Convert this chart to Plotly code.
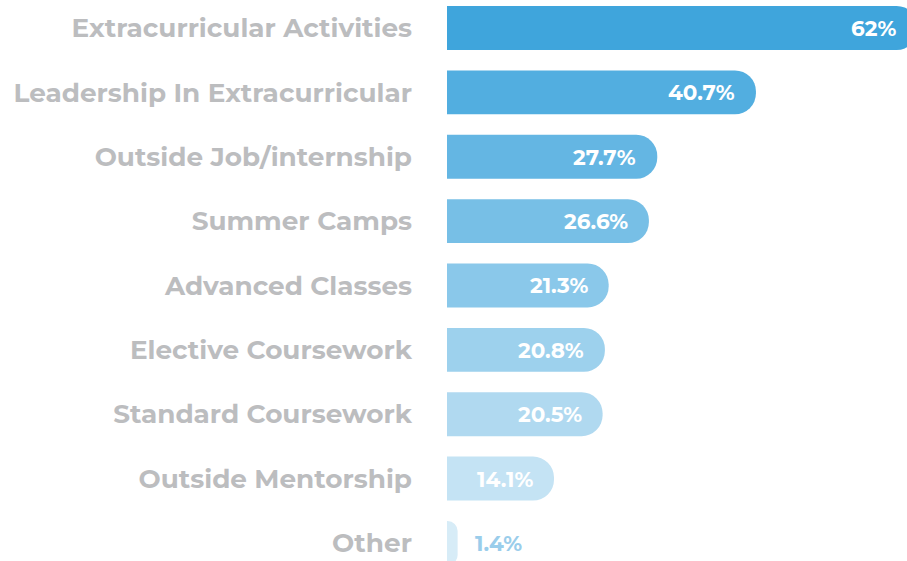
import plotly.graph_objects as go

categories = ["Extracurricular Activities", "Leadership In Extracurricular", "Outside Job/internship",
              "Summer Camps", "Advanced Classes", "Elective Coursework", "Standard Coursework",
              "Outside Mentorship", "Other"]
values = [62, 40.7, 27.7, 26.6, 21.3, 20.8, 20.5, 14.1, 1.4]
value_labels = ["62%", "40.7%", "27.7%", "26.6%", "21.3%", "20.8%", "20.5%", "14.1%", "1.4%"]
bar_colors = ["#3FA5DC", "#52AEE0", "#64B6E3", "#77BFE6", "#8AC8EA", "#9DD1ED", "#B0D9F0",
              "#C4E3F4", "#D7ECF7"]

FIG_W, FIG_H = 907, 561
MARGIN_L = 447
X_MAX = 60.6
px_per_unit = (FIG_W - MARGIN_L) / X_MAX

fig = go.Figure()
fig.add_trace(go.Bar(
    y=categories, x=values, orientation="h",
    marker=dict(color=bar_colors, line=dict(width=0), cornerradius=22),
    hoverinfo="skip",
))

font_fam = "Montserrat, Open Sans"
for cat, v, lab in zip(categories, values, value_labels):
    if v >= 10:
        xa = min(v, X_MAX)
        # bar end may lie beyond the visible range: shift from the range edge to the true bar end
        shift = -19 + (v - xa) * px_per_unit
        fig.add_annotation(x=xa, y=cat, xref="x", yref="y", text=lab, showarrow=False,
                           xanchor="right", xshift=shift,
                           font=dict(family=font_fam, size=21.5, color="white", weight=700))
    else:
        fig.add_annotation(x=v, y=cat, xref="x", yref="y", text=lab, showarrow=False,
                           xanchor="left", xshift=15,
                           font=dict(family=font_fam, size=21.5, color="#9ACDEB", weight=700))

fig.update_layout(
    width=FIG_W, height=FIG_H,
    margin=dict(l=MARGIN_L, r=0, t=0, b=0),
    paper_bgcolor="white", plot_bgcolor="white",
    bargap=0.317,
    showlegend=False,
    xaxis=dict(range=[0, X_MAX], visible=False, fixedrange=True),
    yaxis=dict(range=[8.28, -0.435], showgrid=False, zeroline=False, showline=False,
               ticks="", ticklabelstandoff=34, automargin=False, fixedrange=True,
               tickfont=dict(family=font_fam, size=26.3, color="#BCBDBF", weight=700)),
)

fig.write_html("out.html", default_width="907px", default_height="561px",
               config={"displayModeBar": False},
               post_script="document.body.style.margin='0';document.body.style.overflow='hidden';")
